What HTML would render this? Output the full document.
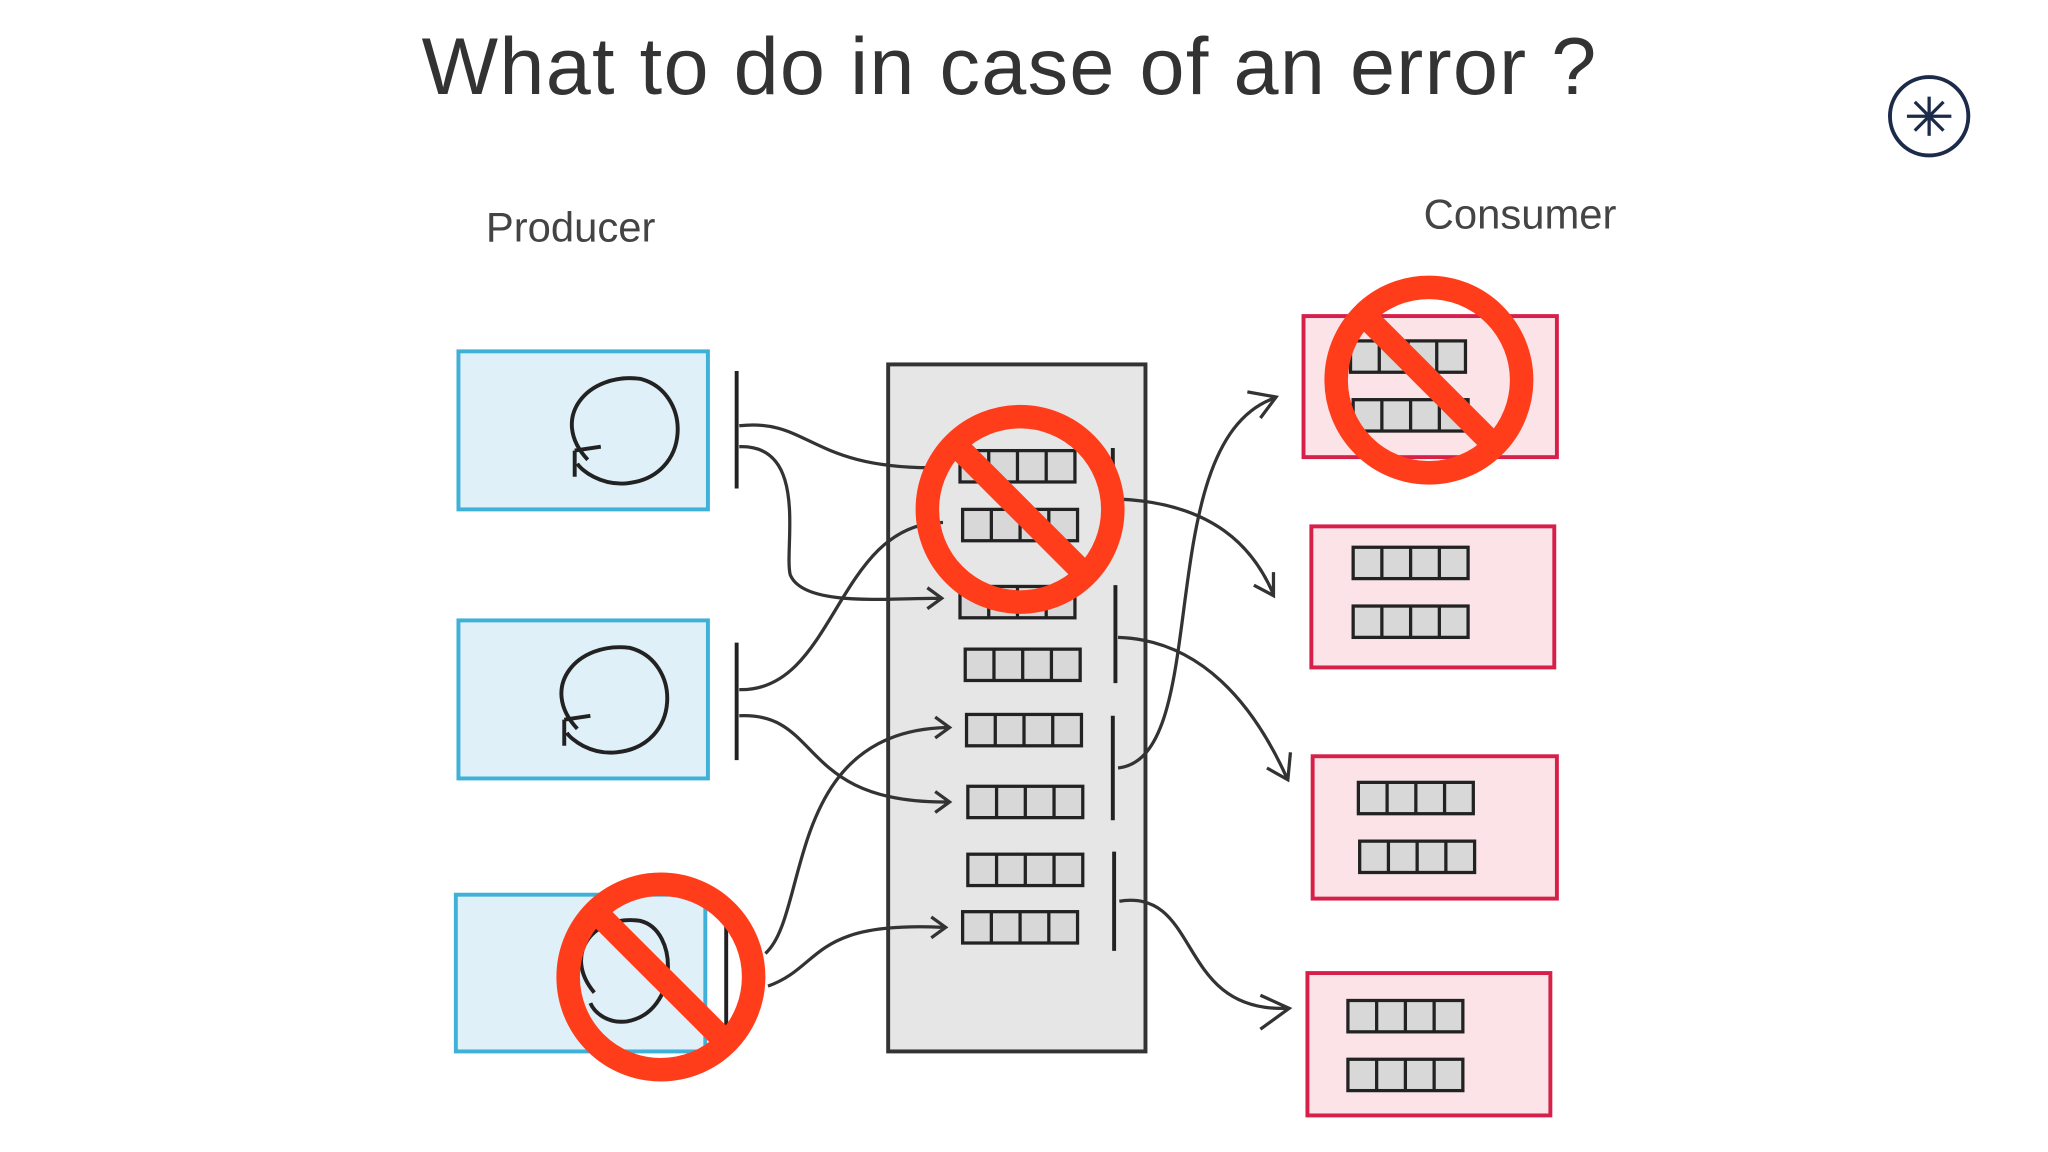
<!DOCTYPE html>
<html><head><meta charset="utf-8"><style>
html,body{margin:0;padding:0;background:#fff;}
svg{display:block;}
</style></head><body>
<svg width="2048" height="1152" viewBox="0 0 1568 882" xmlns="http://www.w3.org/2000/svg">
<defs>
<g id="p4">
<rect x="0" y="0" width="88" height="24" fill="#d8d8d8" stroke="#222" stroke-width="2.5"/>
<line x1="22" y1="0" x2="22" y2="24" stroke="#222" stroke-width="2.5"/>
<line x1="44" y1="0" x2="44" y2="24" stroke="#222" stroke-width="2.5"/>
<line x1="66" y1="0" x2="66" y2="24" stroke="#222" stroke-width="2.5"/>
</g>
</defs>
<rect width="1568" height="882" fill="#fff"/>
<text x="773" y="72" text-anchor="middle" font-family="Liberation Sans, sans-serif" font-size="62" fill="#333" font-weight="normal" letter-spacing="1">What to do in case of an error ?</text>
<circle cx="1477" cy="89" r="30" fill="#fff" stroke="#1c2b4a" stroke-width="3"/>
<g stroke="#1c2b4a" stroke-width="2.5"><line x1="1460" y1="89" x2="1494" y2="89"/><line x1="1477" y1="74" x2="1477" y2="104"/><line x1="1466" y1="78" x2="1488" y2="100"/><line x1="1488" y1="78" x2="1466" y2="100"/></g>
<text x="372" y="185" font-family="Liberation Sans, sans-serif" font-size="32" fill="#444">Producer</text>
<text x="1090" y="175" font-family="Liberation Sans, sans-serif" font-size="32" fill="#444">Consumer</text>
<!-- producers -->
<g fill="#dff0f8" stroke="#3fb0d8" stroke-width="3">
<rect x="351" y="269" width="191" height="121"/>
<rect x="351" y="475" width="191" height="121"/>
<rect x="349" y="685" width="191" height="120"/>
</g>
<g fill="none" stroke="#222" stroke-width="3">
<path d="M450 352 C420 320 450 285 490 290 C530 300 530 365 480 370 C460 372 445 360 442 355 M440 345 L440 365 M440 345 L460 342"/>
<path d="M442 558 C412 526 442 491 482 496 C522 506 522 571 472 576 C452 578 437 566 434 561 M432 551 L432 571 M432 551 L452 548"/>
<path d="M455 760 C430 730 455 700 490 705 C520 712 520 775 480 782 C465 784 455 775 452 768"/>
<line x1="564" y1="284" x2="564" y2="374"/>
<line x1="564" y1="492" x2="564" y2="582"/>
<line x1="556" y1="700" x2="556" y2="790"/>
</g>
<!-- broker -->
<rect x="680" y="279" width="197" height="526" fill="#e6e6e6" stroke="#333" stroke-width="3"/>
<use href="#p4" x="735" y="345"/>
<use href="#p4" x="737" y="390"/>
<use href="#p4" x="735" y="449"/>
<use href="#p4" x="739" y="497"/>
<use href="#p4" x="740" y="547"/>
<use href="#p4" x="741" y="602"/>
<use href="#p4" x="741" y="654"/>
<use href="#p4" x="737" y="698"/>
<g stroke="#222" stroke-width="3"><line x1="852" y1="343" x2="852" y2="410"/><line x1="854" y1="448" x2="854" y2="523"/><line x1="852" y1="548" x2="852" y2="628"/><line x1="853" y1="652" x2="853" y2="728"/></g>
<!-- consumers -->
<g fill="#fbe3e8" stroke="#d6204a" stroke-width="3">
<rect x="998" y="242" width="194" height="108"/>
<rect x="1004" y="403" width="186" height="108"/>
<rect x="1005" y="579" width="187" height="109"/>
<rect x="1001" y="745" width="186" height="109"/>
</g>
<use href="#p4" x="1034" y="261"/><use href="#p4" x="1036" y="306"/>
<use href="#p4" x="1036" y="419"/><use href="#p4" x="1036" y="464"/>
<use href="#p4" x="1040" y="599"/><use href="#p4" x="1041" y="644"/>
<use href="#p4" x="1032" y="766"/><use href="#p4" x="1032" y="811"/>
<!-- arrows -->
<g fill="none" stroke="#333" stroke-width="2.5">
<path d="M566 326 C620 320 620 360 720 358"/>
<path d="M566 342 C620 340 600 420 605 440 C615 465 680 458 720 458 M710 450 L721 458 L710 466"/>
<path d="M566 528 C640 530 640 400 722 400"/>
<path d="M566 548 C630 545 610 615 725 614 M716 606 L727 614 L716 622"/>
<path d="M586 730 C620 700 600 560 725 557 M716 549 L727 557 L716 565"/>
<path d="M588 755 C630 740 620 705 722 710 M713 702 L724 710 L713 718"/>
<path d="M855 382 C930 385 960 420 975 455 M960 448 L975 456 L975 438"/>
<path d="M856 488 C920 490 960 540 985 595 M970 588 L986 597 L988 576"/>
<path d="M856 588 C930 580 880 340 975 305 M955 300 L977 304 L965 320"/>
<path d="M857 690 C920 680 900 775 985 772 M965 762 L987 772 L965 788"/>
</g>
<!-- no signs -->
<g fill="none" stroke="#ff3d1a" stroke-width="18">
<circle cx="781" cy="390" r="71"/><line x1="731" y1="340" x2="831" y2="440"/>
<circle cx="1094" cy="291" r="71"/><line x1="1044" y1="241" x2="1144" y2="341"/>
<circle cx="506" cy="748" r="71"/><line x1="456" y1="698" x2="556" y2="798"/>
</g>
</svg>
</body></html>
